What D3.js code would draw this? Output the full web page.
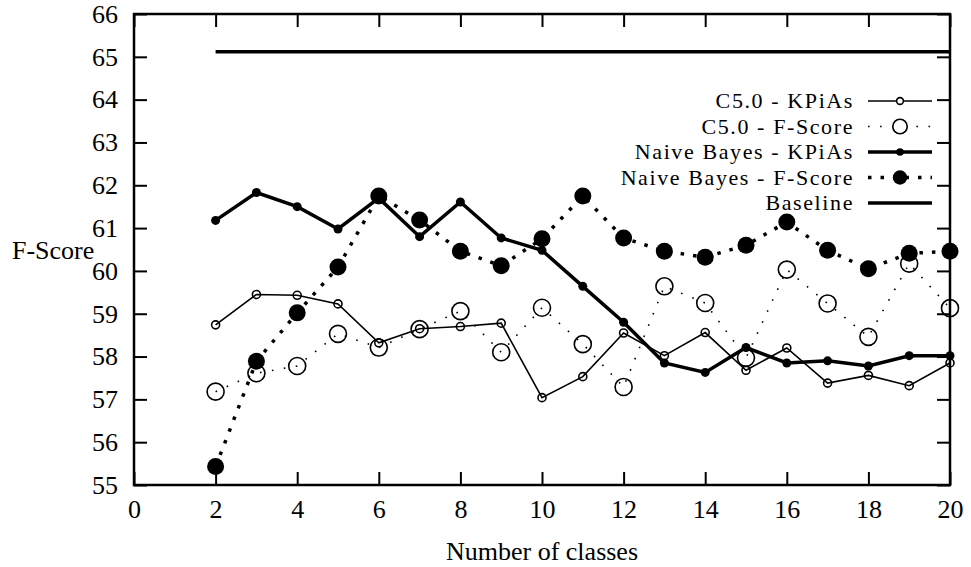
<!DOCTYPE html>
<html>
<head>
<meta charset="utf-8">
<script src="https://cdn.jsdelivr.net/npm/d3@7"></script>
<style>
  body { margin: 0; background: #fff; }
  svg, svg text { font-family: "Liberation Serif", "DejaVu Serif", serif; }
  .axis path { display: none; }
  .axis line { stroke: #000; stroke-width: 2; }
  .axis text { font-size: 26px; fill: #000; }
</style>
</head>
<body>
<div id="chart"></div>
<script>
(function() {
  const classes = [2, 3, 4, 5, 6, 7, 8, 9, 10, 11, 12, 13, 14, 15, 16, 17, 18, 19, 20];
  const c50Kpias = [58.74, 59.45, 59.43, 59.23, 58.32, 58.65, 58.70, 58.78, 57.04, 57.53, 58.55, 58.02, 58.56, 57.68, 58.20, 57.38, 57.56, 57.32, 57.85];
  const c50Fscore = [57.18, 57.61, 57.78, 58.53, 58.21, 58.64, 59.06, 58.10, 59.14, 58.29, 57.29, 59.64, 59.25, 57.97, 60.03, 59.24, 58.46, 60.17, 59.13];
  const nbKpias = [61.18, 61.83, 61.50, 60.98, 61.70, 60.80, 61.61, 60.77, 60.48, 59.64, 58.80, 57.85, 57.63, 58.21, 57.85, 57.90, 57.78, 58.02, 58.02];
  const nbFscore = [55.43, 57.89, 59.02, 60.09, 61.75, 61.19, 60.46, 60.12, 60.75, 61.75, 60.77, 60.46, 60.32, 60.60, 61.14, 60.48, 60.05, 60.41, 60.46];
  const baseline = 65.12;
  const xTicks = [0, 2, 4, 6, 8, 10, 12, 14, 16, 18, 20];
  const yTicks = [55, 56, 57, 58, 59, 60, 61, 62, 63, 64, 65, 66];

  const width = 971, height = 567;
  const plot = { left: 134, right: 950, top: 14, bottom: 485 };

  const x = d3.scaleLinear().domain([0, 20]).range([plot.left, plot.right]);
  const y = d3.scaleLinear().domain([55, 66]).range([plot.bottom, plot.top]);

  const series = [
    { name: "C5.0 - KPiAs", values: c50Kpias, width: 1.6, dash: null, r: 4, fill: "#fff" },
    { name: "C5.0 - F-Score", values: c50Fscore, width: 1.6, dash: "1.6,10.5", r: 8.5, fill: "none" },
    { name: "Naive Bayes - KPiAs", values: nbKpias, width: 3.5, dash: null, r: 4.5, fill: "#000" },
    { name: "Naive Bayes - F-Score", values: nbFscore, width: 3.5, dash: "3.5,9", r: 8.5, fill: "#000" }
  ];

  const svg = d3.select("#chart")
    .append("svg")
      .attr("width", width)
      .attr("height", height);

  const line = d3.line()
    .x((d, i) => x(classes[i]))
    .y(d => y(d));

  // axes, ticks point inwards and are mirrored on top/right
  svg.append("g")
    .attr("class", "axis")
    .attr("transform", `translate(${plot.left},0)`)
    .call(d3.axisLeft(y).tickValues(yTicks).tickSize(-13).tickPadding(16));

  svg.append("g")
    .attr("class", "axis")
    .attr("transform", `translate(${plot.right},0)`)
    .call(d3.axisRight(y).tickValues(yTicks).tickSize(-13).tickFormat(""));

  svg.append("g")
    .attr("class", "axis")
    .attr("transform", `translate(0,${plot.bottom})`)
    .call(d3.axisBottom(x).tickValues(xTicks).tickSize(-13).tickPadding(15));

  svg.append("g")
    .attr("class", "axis")
    .attr("transform", `translate(0,${plot.top})`)
    .call(d3.axisTop(x).tickValues(xTicks).tickSize(-13).tickFormat(""));

  svg.selectAll(".axis").attr("font-family", null);

  svg.append("rect")
    .attr("x", plot.left)
    .attr("y", plot.top)
    .attr("width", plot.right - plot.left)
    .attr("height", plot.bottom - plot.top)
    .attr("fill", "none")
    .attr("stroke", "#000")
    .attr("stroke-width", 2.5);

  // series
  series.forEach(s => {
    svg.append("path")
      .attr("d", line(s.values))
      .attr("fill", "none")
      .attr("stroke", "#000")
      .attr("stroke-width", s.width)
      .attr("stroke-dasharray", s.dash);

    svg.selectAll(null)
      .data(s.values)
      .enter().append("circle")
        .attr("cx", (d, i) => x(classes[i]))
        .attr("cy", d => y(d))
        .attr("r", s.r)
        .attr("fill", s.fill === "#000" ? "#000" : "none")
        .attr("stroke", "#000")
        .attr("stroke-width", s.fill === "#000" ? 0 : 1.6);
  });

  svg.append("line")
    .attr("x1", x(2))
    .attr("x2", x(20))
    .attr("y1", y(baseline))
    .attr("y2", y(baseline))
    .attr("stroke", "#000")
    .attr("stroke-width", 3.5);

  // legend
  const legendItems = series.concat([{ name: "Baseline", width: 3.5, dash: null, r: 0, fill: "none" }]);
  const legend = svg.selectAll(".legend")
    .data(legendItems)
    .enter().append("g")
      .attr("class", "legend")
      .attr("transform", (d, i) => `translate(0, ${101 + i * 25.5})`);

  legend.append("text")
    .attr("x", 854)
    .attr("dy", "0.33em")
    .style("text-anchor", "end")
    .style("font-size", "22px")
    .style("letter-spacing", "1.6px")
    .text(d => d.name);

  legend.append("line")
    .attr("x1", 868)
    .attr("x2", 932)
    .attr("stroke", "#000")
    .attr("stroke-width", d => d.width)
    .attr("stroke-dasharray", d => d.dash);

  legend.filter(d => d.r > 0).append("circle")
    .attr("cx", 900)
    .attr("r", d => d.r * 0.85)
    .attr("fill", d => d.fill === "#000" ? "#000" : "#fff")
    .attr("stroke", "#000")
    .attr("stroke-width", d => d.fill === "#000" ? 0 : 1.6);

  // axis titles
  svg.append("text")
    .attr("x", 12)
    .attr("y", 259)
    .style("font-size", "26px")
    .text("F-Score");

  svg.append("text")
    .attr("x", (plot.left + plot.right) / 2)
    .attr("y", 560)
    .style("text-anchor", "middle")
    .style("font-size", "26px")
    .text("Number of classes");
})();
</script>
</body>
</html>
